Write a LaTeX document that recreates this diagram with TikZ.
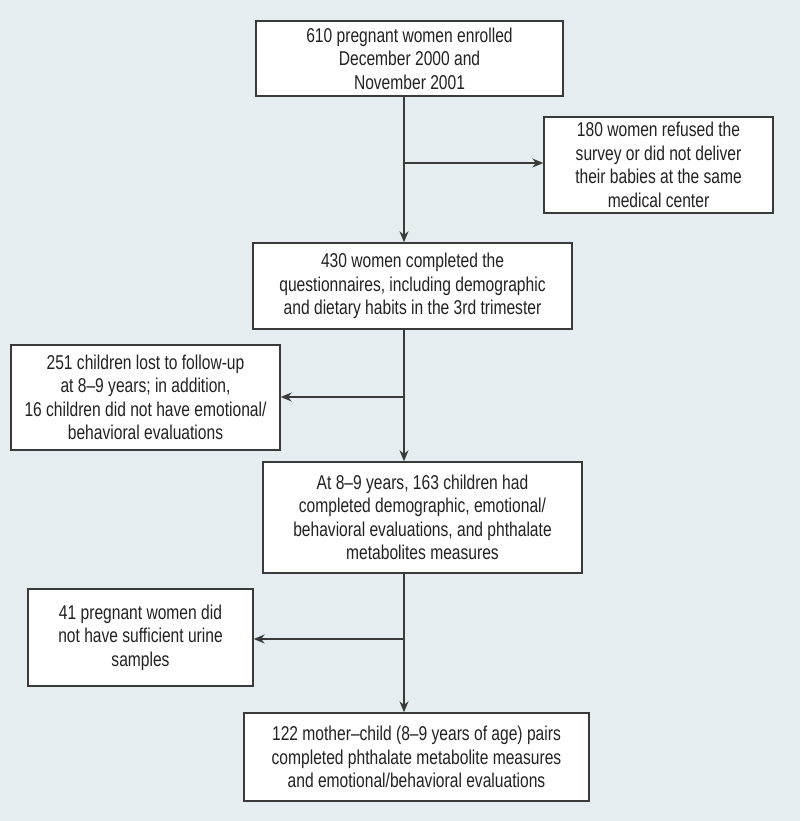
\documentclass[tikz,border=0pt]{standalone}
\usepackage{fontspec}
\setmainfont{Liberation Sans}[FakeStretch=0.78]
\usetikzlibrary{arrows.meta}
\definecolor{bgc}{HTML}{E5EDF0}
\definecolor{ink}{HTML}{222222}
\definecolor{edge}{HTML}{3A3A3A}
\tikzset{
  box/.style={draw=edge, line width=1.4pt, fill=white, rectangle, align=center,
    text=ink, inner sep=0pt, font=\fontsize{20}{23.5}\selectfont},
  arr/.style={draw=edge, line width=1.3pt, -{Stealth[length=11pt,width=9pt]}},
  ln/.style={draw=edge, line width=1.3pt}
}
\begin{document}
\begin{tikzpicture}[x=1pt,y=-1pt]
\fill[bgc] (0,0) rectangle (800,821);
\useasboundingbox (0,0) rectangle (800,821);
\coordinate (spine) at (404,0);
\node[box, minimum width=307pt, minimum height=75pt] (b1) at (409.5,58.5)
  {610 pregnant women enrolled\\December 2000 and\\November 2001};
\node[box, minimum width=229pt, minimum height=96pt] (b2) at (658.5,165)
  {180 women refused the\\survey or did not deliver\\their babies at the same\\medical center};
\node[box, minimum width=319pt, minimum height=86pt] (b3) at (412.5,286)
  {430 women completed the\\questionnaires, including demographic\\and dietary habits in the 3rd trimester};
\node[box, minimum width=269pt, minimum height=105pt] (b4) at (145.5,397.5)
  {251 children lost to follow-up\\at 8–9 years; in addition,\\16 children did not have emotional/\\behavioral evaluations};
\node[box, minimum width=319pt, minimum height=111pt] (b5) at (422.5,517.5)
  {At 8–9 years, 163 children had\\completed demographic, emotional/\\behavioral evaluations, and phthalate\\metabolites measures};
\node[box, minimum width=225pt, minimum height=97pt] (b6) at (140.5,637.5)
  {41 pregnant women did\\not have sufficient urine\\samples};
\node[box, minimum width=345pt, minimum height=88pt] (b7) at (416.5,757)
  {122 mother–child (8–9 years of age) pairs\\completed phthalate metabolite measures\\and emotional/behavioral evaluations};
\coordinate (j1) at (404,163);
\coordinate (j2) at (404,397);
\coordinate (j3) at (404,639);
\draw[arr] (b1.south -| spine) -- (b3.north -| spine);
\draw[arr] (b3.south -| spine) -- (b5.north -| spine);
\draw[arr] (b5.south -| spine) -- (b7.north -| spine);
\draw[arr] (j1) -- (b2.west |- j1);
\draw[arr] (j2) -- (b4.east |- j2);
\draw[arr] (j3) -- (b6.east |- j3);
\end{tikzpicture}
\end{document}
